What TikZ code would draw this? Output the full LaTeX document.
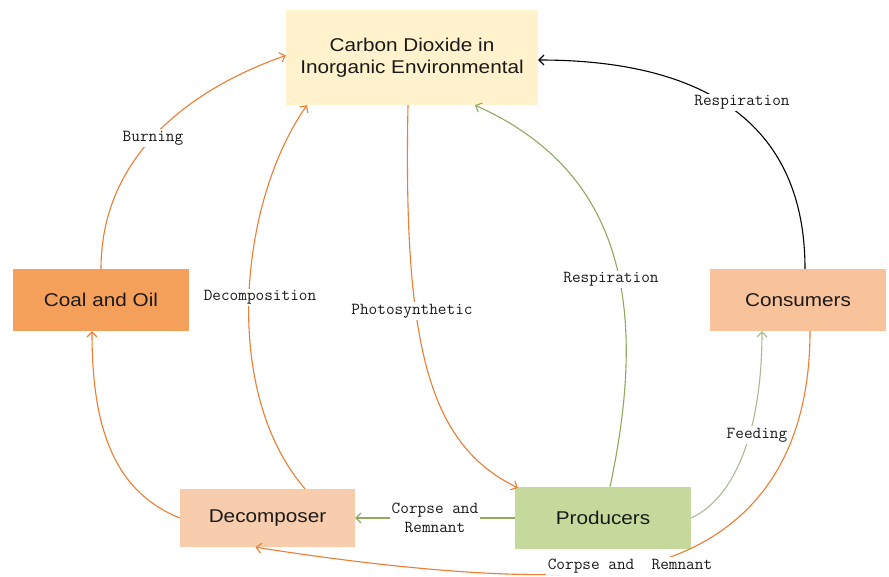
\documentclass[tikz,border=0pt]{standalone}
\usepackage{fontspec}
\newfontfamily\boxfont[FakeStretch=1.12]{Liberation Sans}
\usetikzlibrary{arrows.meta,calc}
\definecolor{orng}{HTML}{ED7D31}
\definecolor{grn}{HTML}{8FAA5E}
\definecolor{grngray}{HTML}{A9BB95}
\definecolor{fco}{HTML}{FFF2CC}
\definecolor{fcoal}{HTML}{F5A05A}
\definecolor{fcons}{HTML}{F8C29A}
\definecolor{fdec}{HTML}{F8CDAE}
\definecolor{fprod}{HTML}{C5D99D}
\definecolor{txt}{HTML}{1A1A1A}
\tikzset{
  box/.style={draw=none, inner sep=0pt, align=center, text=txt,
    font=\boxfont\fontsize{18.5}{22}\selectfont},
  conn/.style={line width=1.1pt, -{Straight Barb[length=5pt,width=10pt]}},
  lbl/.style={fill=white, inner sep=1.5pt, align=center, text=txt,
    font=\ttfamily\fontsize{16.8}{19}\selectfont}
}
\begin{document}
\begin{tikzpicture}[x=1pt,y=-1pt]
\useasboundingbox[fill=white] (0,0) rectangle (889,576);
\node[box, fill=fco, minimum width=252pt, minimum height=95pt] (co2) at (412,57.5) {Carbon Dioxide in\\Inorganic Environmental};
\node[box, fill=fcoal, minimum width=176pt, minimum height=62pt] (coal) at (101,300) {Coal and Oil};
\node[box, fill=fcons, minimum width=176pt, minimum height=62pt] (cons) at (798,300) {Consumers};
\node[box, fill=fdec, minimum width=175pt, minimum height=58pt] (dec) at (267.5,518) {Decomposer};
\node[box, fill=fprod, minimum width=176pt, minimum height=62pt] (prod) at (603,518) {Producers};

% Burning
\draw[conn, orng] (coal.north) .. controls +(0,-110) and +(-100,35) .. ($(co2.west)+(0,-2)$);
% Decomposition
\draw[conn, orng] ($(dec.north)+(37.5,0)$) .. controls (220,390) and (240,200) .. ($(co2.south)+(-105,0)$);
% Photosynthetic
\draw[conn, orng] ($(co2.south)+(-4,0)$) .. controls (403,350) and (430,445) .. ($(prod.north west)+(3,1)$);
% Respiration (producers)
\draw[conn, grn] ($(prod.north)+(7,0)$) .. controls (650,300) and (620,170) .. ($(co2.south)+(63,0)$);
% Respiration (consumers)
\draw[conn, black] ($(cons.north)+(7,0)$) .. controls (805,120) and (700,60) .. ($(co2.east)+(0,2.5)$);
% Feeding
\draw[conn, grngray] (prod.east) .. controls (740,495) and (762,420) .. ($(cons.south)+(-36,0)$);
% Corpse and Remnant (producers -> decomposer)
\draw[conn, grn] (prod.west) -- (dec.east);
% Corpse and Remnant (consumers -> decomposer)
\draw[conn, orng] ($(cons.south)+(12,0)$) .. controls (810,480) and (730,545) .. (640,566) .. controls (560,585) and (400,570) .. ($(dec.south)+(-12,0)$);
% decomposer -> coal
\draw[conn, orng] (dec.west) .. controls (110,490) and (92,420) .. ($(coal.south)+(-9,0)$);

\node[lbl] (lburn) at (153,138) {Burning};
\node[lbl] (ldecomp) at (260,297) {Decomposition};
\node[lbl] (lphoto) at (412,311) {Photosynthetic};
\node[lbl] (lresp1) at (611,279) {Respiration};
\node[lbl] (lresp2) at (742,102) {Respiration};
\node[lbl] (lfeed) at (757,435) {Feeding};
\node[lbl] (lcorpse1) at (435,518) {Corpse and\\Remnant};
\node[lbl] (lcorpse2) at (630,566) {Corpse and\ \ Remnant};
\end{tikzpicture}
\end{document}
